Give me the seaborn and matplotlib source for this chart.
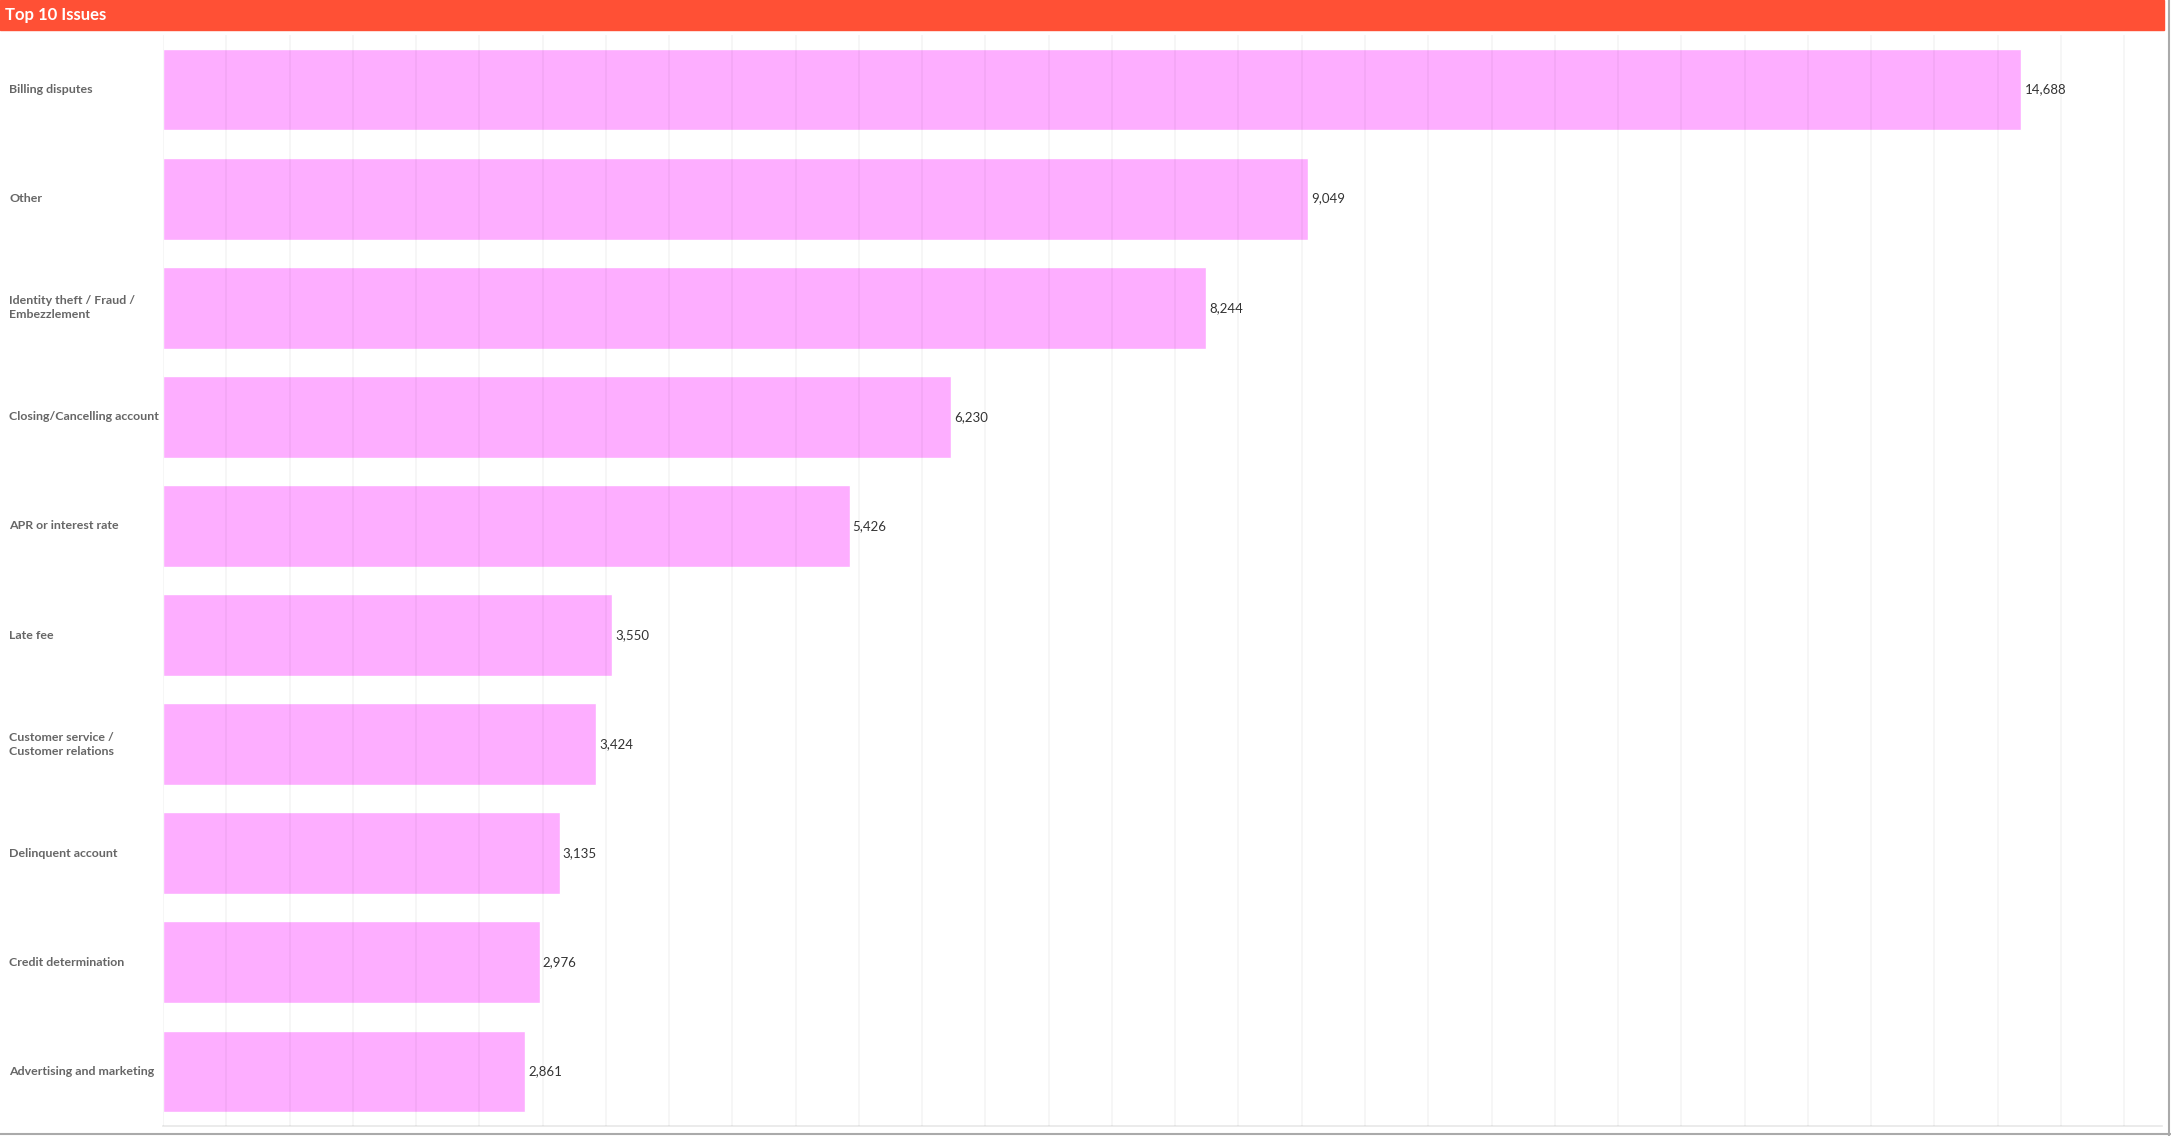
import matplotlib
matplotlib.use('Agg')
import matplotlib.pyplot as plt
import matplotlib.transforms as mtransforms
import seaborn as sns
import pandas as pd

issues = ['Billing disputes', 'Other', 'Identity theft / Fraud /\nEmbezzlement',
          'Closing/Cancelling account', 'APR or interest rate', 'Late fee',
          'Customer service /\nCustomer relations', 'Delinquent account',
          'Credit determination', 'Advertising and marketing']
counts = [14688, 9049, 8244, 6230, 5426, 3550, 3424, 3135, 2976, 2861]

sns.set_style('white')
plt.rcParams['font.family'] = ['Lato', 'DejaVu Sans']

df = pd.DataFrame({'issue': issues, 'count': counts})

fig = plt.figure(figsize=(21.71, 11.36), dpi=100)
ax = fig.add_axes([0.0751, 0.0088, 0.9208, 0.9604])

sns.barplot(data=df, x='count', y='issue', color='#fdaeff', saturation=1,
            width=0.75, ax=ax, zorder=1)

ax.set_xlim(0, 15800)
ax.set_ylim(9.5, -0.5)
ax.set_xticks(range(0, 16000, 500))
ax.grid(axis='x', color='black', alpha=0.045, linewidth=1.2, zorder=3)
ax.set_axisbelow(False)
ax.set_xticklabels([])
ax.set_yticklabels([])
ax.tick_params(length=0)
ax.set_xlabel('')
ax.set_ylabel('')
for side in ['top', 'right', 'left']:
    ax.spines[side].set_visible(False)
ax.spines['bottom'].set_color('#e8e8e8')
ax.spines['bottom'].set_linewidth(1.2)

# category labels, left aligned in the figure margin
trans = mtransforms.blended_transform_factory(fig.transFigure, ax.transData)
for i, label in enumerate(issues):
    ax.text(0.0042, i, label, transform=trans, ha='left', va='center',
            fontsize=8.9, fontweight='bold', color='#666666', linespacing=1.35)

# value labels
for bar, value in zip(ax.patches, counts):
    ax.text(bar.get_width() + 25, bar.get_y() + bar.get_height() / 2,
            f'{value:,}', ha='left', va='center', fontsize=9.5, color='#333333')

# title bar
fig.patches.append(plt.Rectangle((0, 0.9736), 0.9968, 0.0264, transform=fig.transFigure,
                                 color='#ff5035', zorder=0))
fig.text(0.0022, 0.9868, 'Top 10 Issues', ha='left', va='center', fontsize=12,
         fontweight='bold', color='white')

# outer border lines (right and bottom)
fig.add_artist(plt.Line2D([0.9992, 0.9992], [0, 1], transform=fig.transFigure,
                          color='#aaaaaa', linewidth=1.5))
fig.add_artist(plt.Line2D([0, 1], [0.0015, 0.0015], transform=fig.transFigure,
                          color='#aaaaaa', linewidth=1.5))

fig.savefig('out.png', dpi=100)
